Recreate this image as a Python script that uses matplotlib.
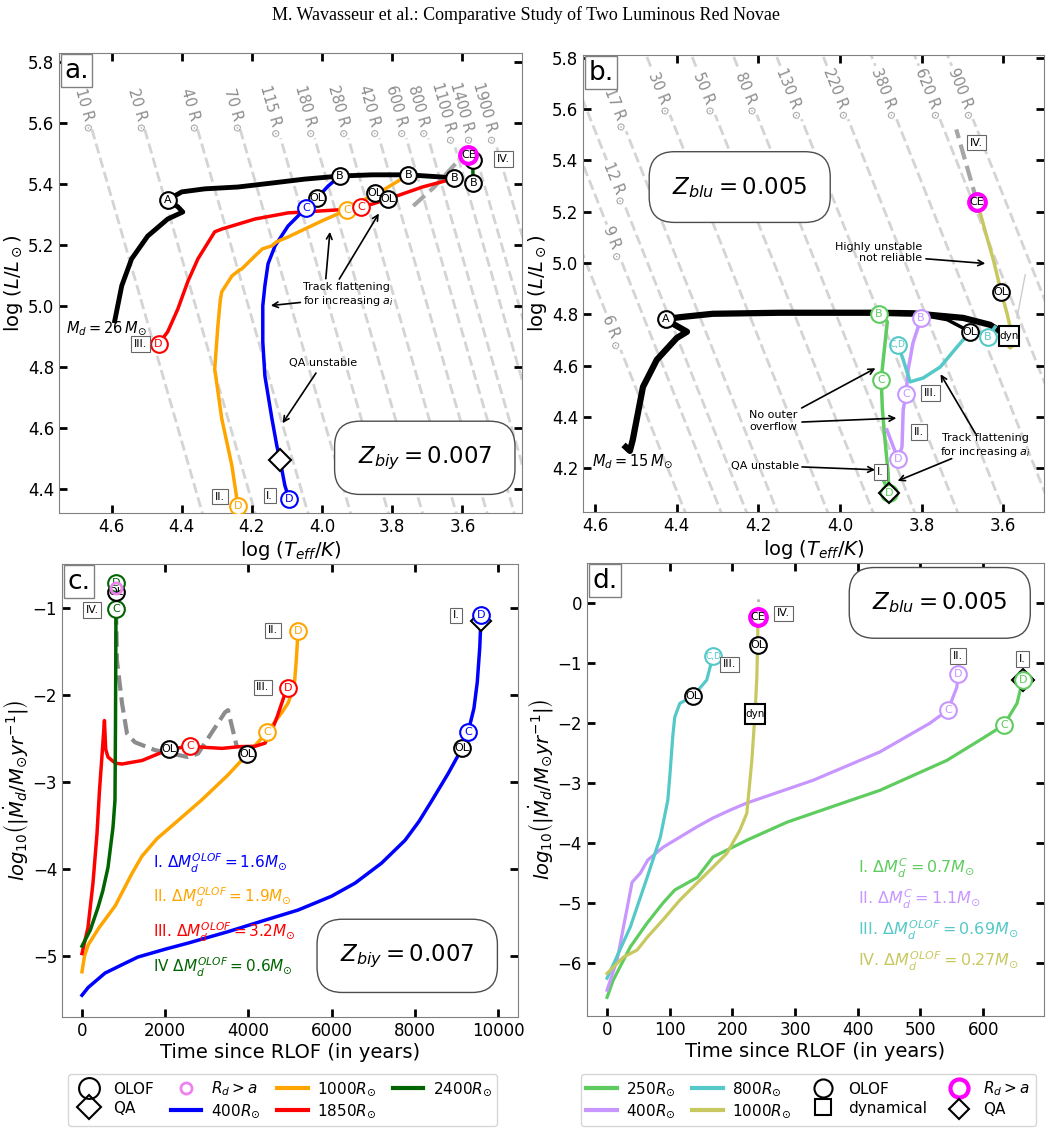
import numpy as np
import matplotlib.pyplot as plt
from matplotlib.lines import Line2D

plt.rcParams['font.family'] = 'DejaVu Sans'
plt.rcParams['mathtext.fontset'] = 'dejavusans'

# ---------------- panel a : HR tracks, Z_biy (log Teff, log L) ----------------
a_black_T = [4.591, 4.571, 4.543, 4.497, 4.44, 4.397, 4.411, 4.44, 4.40, 4.334, 4.24, 4.143, 4.049, 3.949, 3.857, 3.754, 3.623]
a_black_L = [4.951, 5.066, 5.154, 5.229, 5.285, 5.308, 5.325, 5.348, 5.374, 5.384, 5.39, 5.403, 5.416, 5.426, 5.43, 5.43, 5.42]
a_blue_T = [3.949, 3.983, 4.014, 4.046, 4.097, 4.134, 4.154, 4.163, 4.169, 4.169, 4.163, 4.143, 4.129, 4.12, 4.106, 4.094]
a_blue_L = [5.426, 5.393, 5.354, 5.321, 5.262, 5.197, 5.138, 5.066, 5.0, 4.882, 4.770, 4.630, 4.541, 4.495, 4.410, 4.367]
a_orange_T = [3.754, 3.82, 3.849, 3.929, 4.0, 4.097, 4.13, 4.143, 4.17, 4.191, 4.229, 4.235, 4.257, 4.286, 4.29, 4.297, 4.306, 4.286, 4.257, 4.24]
a_orange_L = [5.43, 5.384, 5.37, 5.315, 5.279, 5.226, 5.21, 5.197, 5.187, 5.164, 5.121, 5.118, 5.098, 5.046, 5.02, 4.934, 4.793, 4.630, 4.475, 4.344]
a_red_T = [3.623, 3.649, 3.714, 3.811, 3.857, 3.889, 3.954, 4.097, 4.191, 4.286, 4.306, 4.354, 4.383, 4.411, 4.44, 4.466]
a_red_L = [5.42, 5.41, 5.39, 5.351, 5.334, 5.325, 5.315, 5.305, 5.285, 5.252, 5.243, 5.154, 5.079, 4.99, 4.915, 4.875]
a_green_T = [3.569, 3.570, 3.571]
a_green_L = [5.403, 5.44, 5.472]
a_gray_T = [3.74, 3.68, 3.62]
a_gray_L = [5.328, 5.39, 5.466]
a_radii = [10, 20, 40, 70, 115, 180, 280, 420, 600, 800, 1100, 1400, 1900]
# markers: label, logT, logL, colour
a_marks = [('A', 4.44, 5.348, 'k'), ('B', 3.949, 5.426, 'k'), ('B', 3.754, 5.43, 'k'),
           ('B', 3.623, 5.42, 'k'), ('B', 3.569, 5.403, 'k'), ('OL', 4.014, 5.354, 'k'),
           ('C', 4.046, 5.321, 'blue'), ('OL', 3.849, 5.37, 'k'), ('OL', 3.811, 5.351, 'k'),
           ('C', 3.929, 5.315, 'orange'), ('C', 3.889, 5.325, 'red'), ('D', 4.466, 4.875, 'red'),
           ('D', 4.24, 4.344, 'orange'), ('D', 4.094, 4.367, 'blue'), ('', 3.569, 5.479, 'k'),
           ('CE', 3.583, 5.495, 'magenta')]
a_qa = (4.12, 4.495)
a_roman = [('IV.', 3.483, 5.482), ('III.', 4.517, 4.875), ('II.', 4.291, 4.374), ('I.', 4.149, 4.377)]

# ---------------- panel b : HR tracks, Z_blu ----------------
b_black_T = [4.525, 4.515, 4.508, 4.483, 4.449, 4.40, 4.375, 4.405, 4.427, 4.385, 4.312, 4.147, 3.902, 3.821, 3.698, 3.632, 3.602]
b_black_L = [4.283, 4.268, 4.311, 4.517, 4.623, 4.708, 4.732, 4.759, 4.782, 4.790, 4.802, 4.806, 4.806, 4.804, 4.786, 4.759, 4.728]
b_black2_T = [3.90, 3.80, 3.737, 3.681]
b_black2_L = [4.80, 4.797, 4.779, 4.732]
b_green_T = [3.904, 3.884, 3.894, 3.899, 3.896, 3.889, 3.882, 3.880, 3.895]
b_green_L = [4.802, 4.771, 4.623, 4.545, 4.428, 4.299, 4.182, 4.104, 4.16]
b_purple_T = [3.801, 3.821, 3.833, 3.838, 3.845, 3.848, 3.858, 3.885]
b_purple_L = [4.786, 4.689, 4.584, 4.490, 4.428, 4.283, 4.237, 4.35]
b_teal_T = [3.62, 3.637, 3.66, 3.681, 3.713, 3.754, 3.796, 3.828, 3.845, 3.858]
b_teal_L = [4.75, 4.712, 4.73, 4.732, 4.673, 4.595, 4.552, 4.537, 4.623, 4.681]
b_yellow_T = [3.602, 3.598, 3.583, 3.568, 3.578, 3.59, 3.605, 3.624, 3.645, 3.664]
b_yellow_L = [4.728, 4.695, 4.669, 4.69, 4.716, 4.80, 4.888, 5.012, 5.13, 5.238]
b_gray_T = [3.664, 3.715]
b_gray_L = [5.238, 5.52]
b_radii_top = [17, 30, 50, 80, 130, 220, 380, 620, 900]
b_radii_left = [12, 9, 6]
b_left_L = [5.313, 5.079, 4.732]
b_marks = [('A', 4.427, 4.782, 'k'), ('B', 3.904, 4.802, 'g2'), ('C', 3.899, 4.545, 'g2'),
           ('B', 3.801, 4.786, 'p2'), ('C', 3.838, 4.490, 'p2'), ('D', 3.858, 4.237, 'p2'),
           ('C,D', 3.858, 4.681, 't2'), ('OL', 3.681, 4.732, 'k'), ('B', 3.637, 4.712, 't2'),
           ('OL', 3.605, 4.888, 'k'), ('CE', 3.664, 5.238, 'magenta')]
b_qa = (3.880, 4.104)
b_dyn = (3.585, 4.716)
b_roman = [('IV.', 3.666, 5.469), ('III.', 3.779, 4.494), ('II.', 3.806, 4.342), ('I.', 3.901, 4.186)]

# ---------------- panel c : mass transfer rate, Z_biy ----------------
c_blue_t = [0, 150, 553, 1000, 1346, 2000, 2548, 3500, 4400, 5193, 6000, 6563, 7200, 7765, 8100, 8414, 8800, 9135, 9279, 9420, 9500, 9560, 9592]
c_blue_m = [-5.45, -5.36, -5.195, -5.09, -5.01, -4.92, -4.85, -4.72, -4.586, -4.47, -4.31, -4.16, -3.93, -3.667, -3.45, -3.207, -2.9, -2.609, -2.425, -2.15, -1.85, -1.45, -1.08]
c_orange_t = [0, 60, 150, 400, 800, 1200, 1442, 1800, 2164, 2885, 3500, 3967, 4447, 4800, 4952, 5100, 5150, 5193]
c_orange_m = [-5.18, -5.0, -4.87, -4.68, -4.42, -4.05, -3.85, -3.65, -3.50, -3.2, -2.92, -2.68, -2.425, -2.2, -2.09, -1.9, -1.6, -1.264]
c_red_t = [0, 144, 264, 361, 420, 480, 540, 570, 625, 800, 962, 1442, 1923, 2092, 2596, 3000, 3365, 3800, 4159, 4399, 4550, 4688, 4880, 4952]
c_red_m = [-4.97, -4.67, -4.16, -3.59, -3.1, -2.7, -2.29, -2.62, -2.71, -2.78, -2.79, -2.75, -2.655, -2.62, -2.586, -2.60, -2.61, -2.59, -2.586, -2.55, -2.42, -2.25, -1.98, -1.91]
c_green_t = [0, 200, 385, 500, 625, 745, 793, 805, 817]
c_green_m = [-4.885, -4.70, -4.44, -4.25, -3.98, -3.52, -3.207, -2.37, -1.01]
c_gray_t = [817, 841, 962, 1082, 1274, 1755, 2548, 2789, 3438, 3510, 3726]
c_gray_m = [-1.01, -1.60, -2.09, -2.44, -2.54, -2.63, -2.71, -2.67, -2.195, -2.17, -2.6]
c_marks = [('OL', 2092, -2.62, 'k'), ('C', 2596, -2.586, 'red'), ('OL', 3967, -2.68, 'k'),
           ('C', 4447, -2.425, 'orange'), ('D', 5193, -1.264, 'orange'), ('D', 4952, -1.91, 'red'),
           ('OL', 9135, -2.609, 'k'), ('C', 9279, -2.425, 'blue'), ('D', 9592, -1.08, 'blue'),
           ('C', 817, -1.01, 'darkgreen'), ('OL', 817, -0.816, 'k'), ('D', 817, -0.713, 'darkgreen')]
c_rda = (817, -0.76)
c_qa = (9592, -1.14)
c_roman = [('IV.', 240, -1.02), ('II.', 4592, -1.253), ('III.', 4351, -1.908), ('I.', 8990, -1.08)]
c_notes = [r'I. $\Delta M_d^{OLOF} = 1.6M_{\odot}$', r'II. $\Delta M_d^{OLOF} = 1.9M_{\odot}$',
           r'III. $\Delta M_d^{OLOF} = 3.2M_{\odot}$', r'IV $\Delta M_d^{OLOF} = 0.6M_{\odot}$']

# ---------------- panel d : mass transfer rate, Z_blu ----------------
d_green_t = [0, 10, 37, 64, 89, 108, 144, 169, 223, 287, 376, 435, 542, 595, 633, 654, 663]
d_green_m = [-6.57, -6.28, -5.73, -5.33, -5.0, -4.78, -4.57, -4.23, -3.95, -3.65, -3.33, -3.12, -2.62, -2.28, -2.03, -1.67, -1.28]
d_purple_t = [0, 16, 40, 53, 65, 89, 116, 143, 169, 196, 223, 329, 435, 515, 544, 558, 560]
d_purple_m = [-6.45, -5.95, -4.65, -4.5, -4.28, -4.07, -3.9, -3.73, -3.58, -3.45, -3.33, -2.95, -2.48, -2.0, -1.78, -1.40, -1.18]
d_teal_t = [0, 37, 64, 85, 97, 100, 105, 108, 116, 137, 159, 169]
d_teal_m = [-6.25, -5.4, -4.57, -3.9, -3.28, -2.9, -2.2, -1.9, -1.67, -1.55, -1.28, -0.88]
d_yellow_t = [0, 26, 48, 64, 89, 116, 143, 169, 191, 212, 223, 231, 236, 239, 241]
d_yellow_m = [-6.17, -5.9, -5.78, -5.57, -5.28, -4.95, -4.67, -4.4, -4.17, -3.78, -3.5, -2.62, -1.85, -1.23, -0.23]
d_marks = [('OL', 137, -1.55, 'k'), ('C,D', 169, -0.88, 't2'), ('OL', 241, -0.70, 'k'),
           ('CE', 241, -0.23, 'magenta'), ('C', 544, -1.78, 'p2'), ('D', 560, -1.18, 'p2'),
           ('C', 633, -2.03, 'g2')]
d_qa = (663, -1.28)
d_dyn = (236, -1.85)
d_roman = [('IV.', 281, -0.17), ('III.', 195, -1.02), ('II.', 560, -0.88), ('I.', 663, -0.93)]
d_notes = [r'I. $\Delta M_d^{C} = 0.7M_{\odot}$', r'II. $\Delta M_d^{C} = 1.1M_{\odot}$',
           r'III. $\Delta M_d^{OLOF} = 0.69M_{\odot}$', r'IV. $\Delta M_d^{OLOF} = 0.27M_{\odot}$']

COL = {'k': 'k', 'blue': '#0000ff', 'orange': '#ffa500', 'red': '#ff0000', 'darkgreen': '#006400',
       'g2': '#5fcc5f', 'p2': '#c796ff', 't2': '#55c8c8', 'y2': '#c8c860', 'magenta': '#ff00ff'}


def circ(ax, x, y, s, c, ms=12, fs=8):
    col = COL[c]
    mew = 3 if c == 'magenta' else 1.5
    ax.plot(x, y, 'o', ms=ms, mfc='white', mec=col, mew=mew, zorder=6)
    ax.text(x, y, s, color='k' if c == 'magenta' else col, fontsize=fs if len(s) < 3 else 6.5,
            ha='center', va='center', zorder=7)


def rbox(ax, x, y, s):
    ax.text(x, y, s, fontsize=8, ha='center', va='center', zorder=8,
            bbox=dict(boxstyle='square,pad=0.25', fc='white', ec='0.4', lw=0.8))


def arrow(ax, xy, xytext):
    ax.annotate('', xy=xy, xytext=xytext, arrowprops=dict(arrowstyle='->', color='k', lw=1.2), zorder=9)


def style(ax, lab):
    ax.tick_params(direction='in', top=True, right=True, length=6, width=2, labelsize=12, color='k')
    for sp in ax.spines.values():
        sp.set_color('0.5')
    ax.text(0.012, 0.99, lab, transform=ax.transAxes, fontsize=19, va='top', ha='left', zorder=10,
            bbox=dict(boxstyle='square,pad=0.12', fc='white', ec='0.5', lw=1))


def zbox(ax, x, y, s):
    ax.text(x, y, s, transform=ax.transAxes, fontsize=16.5, ha='center', va='center', zorder=10,
            bbox=dict(boxstyle='round,pad=1.0,rounding_size=1.1', fc='white', ec='0.3', lw=1))


fig = plt.figure(figsize=(10.51, 11.29), dpi=100)
fig.text(0.5, 0.987, 'M. Wavasseur et al.: Comparative Study of Two Luminous Red Novae',
         family='Liberation Serif', fontsize=13, ha='center', va='center')

axa = fig.add_axes([0.0561, 0.5456, 0.4406, 0.4075])
axb = fig.add_axes([0.5547, 0.5465, 0.4386, 0.4048])
axc = fig.add_axes([0.0590, 0.0992, 0.4339, 0.4012])
axd = fig.add_axes([0.5585, 0.1001, 0.4348, 0.4012])

# ---- panel a
ax = axa
for R in a_radii:
    nd = len(str(R))
    Ls = np.array([4.2, 5.64 - 0.03 * nd])
    ax.plot((Ls - 2 * np.log10(R) + 15.045) / 4, Ls, ls='--', color='0.83', lw=2, zorder=1)
    Lt = 5.645 - 0.005 * (nd - 2)
    ax.text((Lt - 2 * np.log10(R) + 15.045) / 4, Lt, f'{R} R$_\\odot$', rotation=-74, color='0.55',
            fontsize=10.5, ha='center', va='center', rotation_mode='anchor')
ax.plot(a_gray_T, a_gray_L, ls='--', color='0.65', lw=3, zorder=2)
ax.plot(a_black_T, a_black_L, color='k', lw=3.5, zorder=3)
ax.plot(a_blue_T, a_blue_L, color=COL['blue'], lw=2.5, zorder=3)
ax.plot(a_orange_T, a_orange_L, color=COL['orange'], lw=2.5, zorder=3)
ax.plot(a_red_T, a_red_L, color=COL['red'], lw=2.5, zorder=3)
ax.plot(a_green_T, a_green_L, color=COL['darkgreen'], lw=2.5, zorder=3)
ax.plot(*a_qa, 'D', ms=11, mfc='white', mec='k', mew=1.5, zorder=6)
for s, x, y, c in a_marks:
    circ(ax, x, y, s, c)
for s, x, y in a_roman:
    rbox(ax, x, y, s)
ax.text(4.614, 4.928, r'$M_d = 26\,M_{\odot}$', fontsize=10.5, ha='center', va='center')
ax.text(4.054, 5.036, 'Track flattening\nfor increasing $a_i$', fontsize=8, ha='left', va='center')
arrow(ax, (3.977, 5.252), (3.99, 5.08))
arrow(ax, (3.834, 5.311), (3.955, 5.08))
arrow(ax, (4.154, 5.0), (4.054, 5.012))
ax.text(3.997, 4.813, 'QA unstable', fontsize=8, ha='center', va='center')
arrow(ax, (4.117, 4.607), (4.013, 4.787))
zbox(ax, 0.79, 0.12, r'$Z_{biy} = 0.007$')
ax.set_xlim(4.75, 3.43)
ax.set_ylim(4.32, 5.83)
ax.set_xticks([4.6, 4.4, 4.2, 4.0, 3.8, 3.6])
ax.set_yticks([4.4, 4.6, 4.8, 5.0, 5.2, 5.4, 5.6, 5.8])
ax.set_xlabel(r'log $(T_{eff}/K)$', fontsize=14, labelpad=2)
ax.set_ylabel(r'log $(L/L_\odot)$', fontsize=14, labelpad=2)
style(ax, 'a.')

# ---- panel b
ax = axb
wb = dict(boxstyle='square,pad=0.1', fc='white', ec='none')
for R in b_radii_top + b_radii_left:
    Ls = np.array([3.9, 6.0])
    ax.plot((Ls - 2 * np.log10(R) + 15.045) / 4, Ls, ls='--', color='0.83', lw=2, zorder=1)
for R, Lt in zip(b_radii_top + b_radii_left, [5.60] + [5.664] * 8 + b_left_L):
    ax.text((Lt - 2 * np.log10(R) + 15.045) / 4, Lt, f'{R} R$_\\odot$', rotation=-68, color='0.55',
            fontsize=10.5, ha='center', va='center', rotation_mode='anchor', bbox=wb, zorder=1.5)
ax.plot([3.546, 3.566], [4.954, 4.786], color='0.8', lw=1, zorder=2)
ax.plot(b_gray_T, b_gray_L, ls='--', color='0.65', lw=3, zorder=2)
ax.plot(b_black_T, b_black_L, color='k', lw=4.5, zorder=3)
ax.plot(b_black2_T, b_black2_L, color='k', lw=2.5, zorder=3)
ax.plot(b_green_T, b_green_L, color=COL['g2'], lw=2.5, zorder=4)
ax.plot(b_purple_T, b_purple_L, color=COL['p2'], lw=2.5, zorder=4)
ax.plot(b_teal_T, b_teal_L, color=COL['t2'], lw=2.5, zorder=4)
ax.plot(b_yellow_T, b_yellow_L, color=COL['y2'], lw=2.5, zorder=4)
circ(ax, b_qa[0], b_qa[1], 'D', 'g2')
ax.plot(*b_qa, 'D', ms=10, mfc='none', mec='k', mew=1.5, zorder=7)
ax.plot(*b_dyn, 's', ms=14, mfc='white', mec='k', mew=1.5, zorder=6)
ax.text(*b_dyn, 'dyn', fontsize=7.5, ha='center', va='center', zorder=7)
for s, x, y, c in b_marks:
    circ(ax, x, y, s, c)
for s, x, y in b_roman:
    rbox(ax, x, y, s)
ax.text(4.51, 4.23, r'$M_d = 15\,M_{\odot}$', fontsize=10.5, ha='center', va='center')
ax.text(3.798, 5.04, 'Highly unstable\nnot reliable', fontsize=8, ha='right', va='center', multialignment='right')
arrow(ax, (3.637, 4.997), (3.796, 5.017))
ax.text(4.164, 4.385, 'No outer\noverflow', fontsize=8, ha='center', va='center', multialignment='center')
arrow(ax, (3.907, 4.595), (4.10, 4.43))
arrow(ax, (3.855, 4.396), (4.10, 4.38))
ax.text(4.10, 4.209, 'QA unstable', fontsize=8, ha='right', va='center')
arrow(ax, (3.907, 4.194), (4.10, 4.206))
ax.text(3.644, 4.287, 'Track flattening\nfor increasing $a_i$', fontsize=8, ha='center', va='center',
        multialignment='center')
arrow(ax, (3.757, 4.576), (3.664, 4.325))
arrow(ax, (3.865, 4.147), (3.72, 4.242))
zbox(ax, 0.34, 0.711, r'$Z_{blu} = 0.005$')
ax.set_xlim(4.63, 3.50)
ax.set_ylim(4.03, 5.81)
ax.set_xticks([4.6, 4.4, 4.2, 4.0, 3.8, 3.6])
ax.set_yticks([4.2, 4.4, 4.6, 4.8, 5.0, 5.2, 5.4, 5.6, 5.8])
ax.set_xlabel(r'log $(T_{eff}/K)$', fontsize=14, labelpad=2)
ax.set_ylabel(r'log $(L/L_\odot)$', fontsize=14, labelpad=2)
style(ax, 'b.')

# ---- panel c
ax = axc
ax.plot(c_gray_t, c_gray_m, ls='--', color='0.55', lw=3, zorder=2)
ax.plot(c_blue_t, c_blue_m, color=COL['blue'], lw=2.5, zorder=3)
ax.plot(c_orange_t, c_orange_m, color=COL['orange'], lw=2.5, zorder=3)
ax.plot(c_red_t, c_red_m, color=COL['red'], lw=2.5, zorder=3)
ax.plot(c_green_t, c_green_m, color=COL['darkgreen'], lw=2.5, zorder=3)
ax.plot(*c_qa, 'D', ms=10, mfc='white', mec='k', mew=1.5, zorder=5)
for s, x, y, c in c_marks:
    circ(ax, x, y, s, c)
ax.plot(*c_rda, 'o', ms=8, mfc='none', mec='violet', mew=2, zorder=8)
for s, x, y in c_roman:
    rbox(ax, x, y, s)
for i, (s, c) in enumerate(zip(c_notes, ['blue', 'orange', 'red', 'darkgreen'])):
    ax.text(1700, -3.93 - 0.4 * i, s, color=COL[c], fontsize=11, ha='left', va='center')
zbox(ax, 0.757, 0.135, r'$Z_{biy} = 0.007$')
ax.set_xlim(-480, 10480)
ax.set_ylim(-5.70, -0.49)
ax.set_xticks([0, 2000, 4000, 6000, 8000, 10000])
ax.set_yticks([-5, -4, -3, -2, -1])
ax.set_xlabel('Time since RLOF (in years)', fontsize=14, labelpad=2)
ax.set_ylabel(r'$log_{10}\left(|\dot{M}_d/M_{\odot}yr^{-1}|\right)$', fontsize=14, labelpad=2)
style(ax, 'c.')

# ---- panel d
ax = axd
ax.plot([241, 241], [-0.1, 0.12], ls=':', color='0.7', lw=2, zorder=2)
ax.plot(d_green_t, d_green_m, color=COL['g2'], lw=2.3, zorder=3)
ax.plot(d_purple_t, d_purple_m, color=COL['p2'], lw=2.3, zorder=3)
ax.plot(d_teal_t, d_teal_m, color=COL['t2'], lw=2.3, zorder=3)
ax.plot(d_yellow_t, d_yellow_m, color=COL['y2'], lw=2.3, zorder=3)
ax.plot(*d_qa, 'D', ms=11, mfc='white', mec='k', mew=1.5, zorder=5)
circ(ax, d_qa[0], d_qa[1], 'D', 'g2')
ax.plot(*d_dyn, 's', ms=14, mfc='white', mec='k', mew=1.5, zorder=6)
ax.text(*d_dyn, 'dyn', fontsize=7.5, ha='center', va='center', zorder=7)
for s, x, y, c in d_marks:
    circ(ax, x, y, s, c)
for s, x, y in d_roman:
    rbox(ax, x, y, s)
for i, (s, c) in enumerate(zip(d_notes, ['g2', 'p2', 't2', 'y2'])):
    ax.text(400, -4.42 - 0.515 * i, s, color=COL[c], fontsize=11.5, ha='left', va='center')
zbox(ax, 0.772, 0.912, r'$Z_{blu} = 0.005$')
ax.set_xlim(-32, 697)
ax.set_ylim(-6.88, 0.67)
ax.set_xticks([0, 100, 200, 300, 400, 500, 600])
ax.set_yticks([-6, -5, -4, -3, -2, -1, 0])
ax.set_xlabel('Time since RLOF (in years)', fontsize=14, labelpad=2)
ax.set_ylabel(r'$log_{10}\left(|\dot{M}_d/M_{\odot}yr^{-1}|\right)$', fontsize=14, labelpad=2)
style(ax, 'd.')

# ---- legends
def ln(c):
    return Line2D([], [], color=COL[c], lw=3)

leg_kw = dict(loc='center', ncol=4, fontsize=11, frameon=True, handlelength=2.0, handletextpad=0.6,
              columnspacing=1.1, labelspacing=0.25, borderpad=0.35)
h_left = [Line2D([], [], marker='o', ls='none', ms=15, mfc='none', mec='k', mew=1.5),
          Line2D([], [], marker='D', ls='none', ms=12, mfc='none', mec='k', mew=1.5),
          Line2D([], [], marker='o', ls='none', ms=8, mfc='none', mec='violet', mew=2),
          ln('blue'), ln('orange'), ln('red'), ln('darkgreen')]
l_left = ['OLOF', 'QA', r'$R_d > a$', r'400$R_{\odot}$', r'1000$R_{\odot}$', r'1850$R_{\odot}$', r'2400$R_{\odot}$']
fig.legend(h_left, l_left, bbox_to_anchor=(0.269, 0.0257), **leg_kw)

h_right = [ln('g2'), ln('p2'), ln('t2'), ln('y2'),
           Line2D([], [], marker='o', ls='none', ms=13, mfc='none', mec='k', mew=1.5),
           Line2D([], [], marker='s', ls='none', ms=12, mfc='none', mec='k', mew=1.5),
           Line2D([], [], marker='o', ls='none', ms=13, mfc='none', mec='magenta', mew=3),
           Line2D([], [], marker='D', ls='none', ms=10, mfc='none', mec='k', mew=1.5)]
l_right = [r'250$R_{\odot}$', r'400$R_{\odot}$', r'800$R_{\odot}$', r'1000$R_{\odot}$',
           'OLOF', 'dynamical', r'$R_d > a$', 'QA']
fig.legend(h_right, l_right, bbox_to_anchor=(0.769, 0.0257), **leg_kw)

fig.savefig('out.png', dpi=100)
